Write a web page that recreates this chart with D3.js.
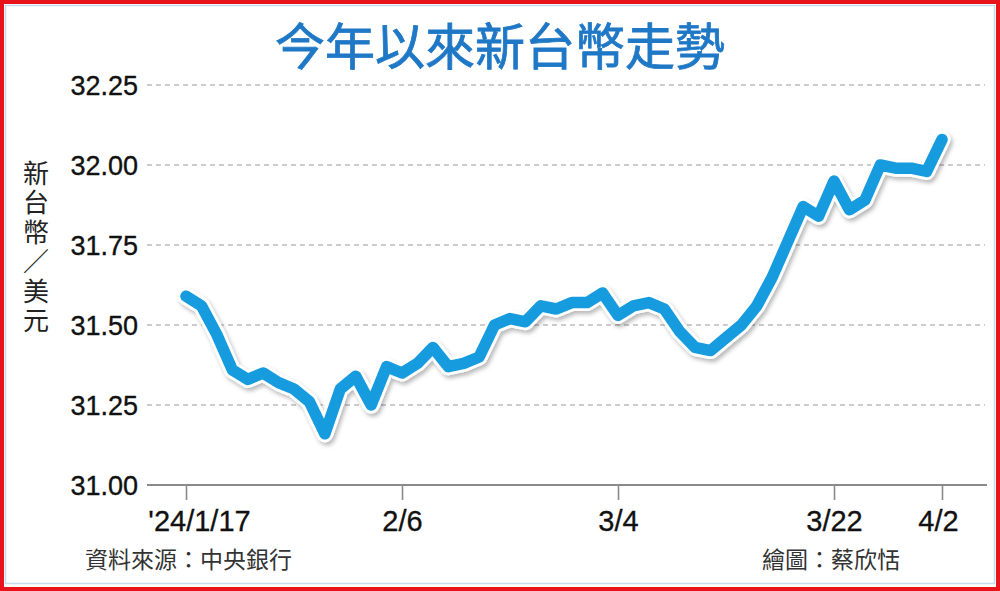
<!DOCTYPE html>
<html>
<head>
<meta charset="utf-8">
<script src="https://cdn.jsdelivr.net/npm/d3@7"></script>
<style>
  html, body { margin: 0; padding: 0; background: #fff; }
  svg { display: block; }
</style>
</head>
<body>
<svg id="chart" width="1000" height="591"></svg>
<script>
// ---- data ----
const dates = ["1/17","1/18","1/19","1/22","1/23","1/24","1/25","1/26","1/29","1/30",
  "1/31","2/1","2/2","2/5","2/6","2/7","2/15","2/16","2/17","2/19",
  "2/20","2/21","2/22","2/23","2/26","2/27","2/29","3/1","3/4","3/5",
  "3/6","3/7","3/8","3/11","3/12","3/13","3/14","3/15","3/18","3/19",
  "3/20","3/21","3/22","3/25","3/26","3/27","3/28","3/29","4/1","4/2"];
const rates = [31.59,31.56,31.47,31.36,31.33,31.35,31.32,31.30,31.26,31.16,
  31.30,31.34,31.25,31.37,31.35,31.38,31.43,31.37,31.38,31.40,
  31.50,31.52,31.51,31.56,31.55,31.57,31.57,31.60,31.53,31.56,
  31.57,31.55,31.48,31.43,31.42,31.46,31.50,31.56,31.65,31.76,
  31.87,31.84,31.95,31.86,31.89,32.00,31.99,31.99,31.98,32.08];
const xTickDates = ["1/17","2/6","3/4","3/22","4/2"];
const xTickLabels = ["'24/1/17","2/6","3/4","3/22","4/2"];
const yTicks = [31.00,31.25,31.50,31.75,32.00,32.25];
const titleText = "今年以來新台幣走勢";
const yTitle = "新台幣／美元";
const sourceText = "資料來源：中央銀行";
const creditText = "繪圖：蔡欣恬";

// ---- drawing ----
const svg = d3.select("#chart");
const defs = svg.append("defs");
const f = defs.append("filter").attr("id","shadow")
  .attr("x","-10%").attr("y","-10%").attr("width","120%").attr("height","130%");
f.append("feDropShadow").attr("dx",2).attr("dy",3).attr("stdDeviation",2.2)
  .attr("flood-color","#000").attr("flood-opacity",0.28);

// frame
svg.append("rect").attr("x",0).attr("y",0).attr("width",1000).attr("height",591).attr("fill","#fff");
svg.append("rect").attr("x",2).attr("y",2).attr("width",996).attr("height",587)
  .attr("fill","none").attr("stroke","#e8141c").attr("stroke-width",4);
svg.append("rect").attr("x",5.5).attr("y",5.5).attr("width",989).attr("height",578)
  .attr("fill","none").attr("stroke","#c3dcee").attr("stroke-width",1.5);

const x = d3.scalePoint().domain(dates).range([186, 942]);
const y = d3.scaleLinear().domain([31, 32.25]).range([485, 85]);

const numFont = "'Liberation Sans', Arial, sans-serif";
const cjkFont = "'Noto Sans CJK TC', 'Noto Sans CJK SC', sans-serif";

// title
svg.append("text").attr("x",500).attr("y",65).attr("text-anchor","middle")
  .attr("font-family",cjkFont).attr("font-size",50).attr("font-weight",400)
  .attr("fill","#1f78c6").attr("stroke","#1f78c6").attr("stroke-width",0.8)
  .text(titleText);

// gridlines
svg.append("g").selectAll("line").data(yTicks.filter(d => d > 31)).join("line")
  .attr("x1",147).attr("x2",985)
  .attr("y1",d => y(d)).attr("y2",d => y(d))
  .attr("stroke","#9a9a9a").attr("stroke-width",1.2).attr("stroke-dasharray","5,4");

// y labels
svg.append("g").selectAll("text").data(yTicks).join("text")
  .attr("x",138).attr("y",d => y(d) + 10)
  .attr("text-anchor","end")
  .attr("font-family",numFont).attr("font-size",27)
  .attr("fill","#111").attr("stroke","#111").attr("stroke-width",0.35)
  .text(d => d3.format(".2f")(d));

// y title (vertical, single text element)
svg.append("text")
  .attr("x",36).attr("y",160)
  .style("writing-mode","vertical-rl")
  .style("text-orientation","upright")
  .style("font-feature-settings","\"vert\" 0, \"vrt2\" 0")
  .style("letter-spacing","3.5px")
  .attr("font-family",cjkFont).attr("font-size",26)
  .attr("fill","#222")
  .text(yTitle);

// x axis
const xAxis = d3.axisBottom(x).tickValues(xTickDates)
  .tickFormat(d => xTickLabels[xTickDates.indexOf(d)])
  .tickSize(15).tickSizeOuter(0).tickPadding(10);
const gx = svg.append("g").attr("transform","translate(0,485)").call(xAxis);
gx.select(".domain").remove();
gx.selectAll(".tick line").attr("stroke","#8a8a8a").attr("stroke-width",1.6);
gx.selectAll(".tick text")
  .attr("font-family",numFont).attr("font-size",29).attr("fill","#111")
  .attr("stroke","#111").attr("stroke-width",0.3)
  .attr("dx",(d,i) => i === 0 ? 13 : (i === xTickDates.length-1 ? -4 : 0));
svg.append("line").attr("x1",147).attr("x2",987).attr("y1",485).attr("y2",485)
  .attr("stroke","#8a8a8a").attr("stroke-width",2.2);

// line
const line = d3.line().x((d,i) => x(dates[i])).y(d => y(d));
const lg = svg.append("g");
lg.append("path").datum(rates).attr("d",line)
  .attr("fill","none").attr("stroke","#fff").attr("stroke-width",17)
  .attr("stroke-linejoin","round").attr("stroke-linecap","round")
  .attr("filter","url(#shadow)");
lg.append("path").datum(rates).attr("d",line)
  .attr("fill","none").attr("stroke","#169bdf").attr("stroke-width",11.5)
  .attr("stroke-linejoin","round").attr("stroke-linecap","round");

// footer
svg.append("text").attr("x",85).attr("y",568)
  .attr("font-family",cjkFont).attr("font-size",23).attr("fill","#333")
  .text(sourceText);
svg.append("text").attr("x",900).attr("y",568).attr("text-anchor","end")
  .attr("font-family",cjkFont).attr("font-size",23).attr("fill","#333")
  .text(creditText);
</script>
</body>
</html>
